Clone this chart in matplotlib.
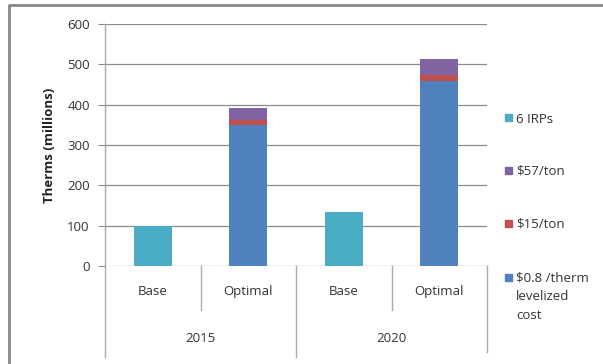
import matplotlib.pyplot as plt
from matplotlib.lines import Line2D
from matplotlib.patches import Rectangle
from matplotlib.transforms import blended_transform_factory
import numpy as np

plt.rcParams["font.family"] = ["Open Sans", "DejaVu Sans"]

categories = ["Base", "Optimal", "Base", "Optimal"]
years = ["2015", "2020"]
irps = [100, 0, 134, 0]
levelized = [0, 350, 0, 459]
ton15 = [0, 12, 0, 15]
ton57 = [0, 30, 0, 39]
series_labels = ["$0.8 /therm\nlevelized\ncost", "$15/ton", "$57/ton", "6 IRPs"]
colors = ["#4F81BD", "#C0504D", "#8064A2", "#4BACC6"]
yticks = [0, 100, 200, 300, 400, 500, 600]

W, H = 603, 364
fig = plt.figure(figsize=(W / 100, H / 100), dpi=100)
ax = fig.add_axes([105 / W, 1 - 266 / H, 382 / W, 242 / H])

x = np.arange(len(categories))
w = 0.4
ax.bar(x, irps, w, color=colors[3], zorder=3)
ax.bar(x, levelized, w, color=colors[0], zorder=3)
ax.bar(x, ton15, w, bottom=levelized, color=colors[1], zorder=3)
ax.bar(x, ton57, w, bottom=np.add(levelized, ton15), color=colors[2], zorder=3)

ax.set_xlim(-0.5, 3.5)
ax.set_ylim(0, 600)
ax.set_yticks(yticks)
ax.set_xticks([])
ax.tick_params(axis="y", length=5, color="#8c8c8c", labelsize=9.5, labelcolor="#333333", pad=6)
ax.grid(axis="y", color="#8c8c8c", linewidth=0.9, zorder=0)
for s in ["top", "right", "bottom", "left"]:
    ax.spines[s].set_visible(False)
ax.set_ylabel("Therms (millions)", fontsize=9.5, fontweight="bold", color="#222222", labelpad=8)

# category axis with group separators
tr = blended_transform_factory(ax.transData, ax.transAxes)
sep = dict(transform=tr, color="#aaaaaa", lw=1, clip_on=False)
ax.add_line(Line2D([-0.5, -0.5], [1, -0.376], **sep))
ax.add_line(Line2D([0.5, 0.5], [0, -0.18], **sep))
ax.add_line(Line2D([2.5, 2.5], [0, -0.18], **sep))
ax.add_line(Line2D([1.5, 1.5], [0, -0.376], **sep))
ax.add_line(Line2D([3.5, 3.5], [0, -0.355], **sep))
for xi, c in zip(x, categories):
    ax.text(xi, -0.107, c, transform=tr, ha="center", va="center", fontsize=9.5, color="#333333")
for gi, yr in enumerate(years):
    ax.text(2 * gi + 0.5, -0.298, yr, transform=tr, ha="center", va="center", fontsize=9.5, color="#333333")

# legend, drawn by hand so the swatch sits on the first text line
legend_rows = [118, 170, 223, 277]
for row, i in zip(legend_rows, [3, 2, 1, 0]):
    fig.add_artist(Rectangle((505 / W, 1 - (row + 3.5) / H), 7 / W, 7 / H,
                             transform=fig.transFigure, color=colors[i]))
    fig.text(516 / W, 1 - (row - 5) / H, series_labels[i], ha="left", va="top",
             fontsize=9.5, color="#333333", linespacing=1.55)

# outer chart border
fig.add_artist(Line2D([9 / W, 9 / W, 1.0], [0.0, 1 - 5 / H, 1 - 5 / H], transform=fig.transFigure,
                      color="#888888", lw=2))

fig.savefig("out.png", dpi=100)
